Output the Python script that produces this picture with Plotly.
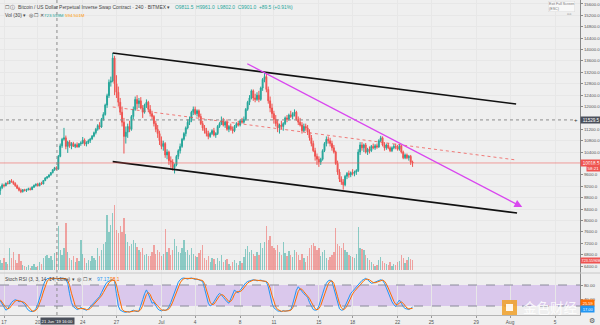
import pandas as pd
import plotly.graph_objects as go

# XBTUSD perpetual, 4-hour bars (UTC) from 2019-06-16 16:00 to 2019-07-23 08:00
first_bar = "2019-06-16 16:00"

opens = [
    9050, 9150,
    9240, 9220, 9310, 9290, 9390, 9360,
    9300, 9220, 9130, 9060, 9010, 9080,
    9050, 9090, 9110, 9080, 9170, 9230,
    9270, 9220, 9300, 9280, 9400, 9490,
    9530, 9600, 9680, 9780, 9850, 9800,
    10250, 10620, 10850, 10900, 10600, 10750,
    10620, 10700, 10600, 10660, 10580, 10690,
    10720, 10820, 10680, 10740, 10800, 10860,
    10960, 11080, 11200, 11330, 11280, 11550,
    11720, 12050, 12380, 12850, 12900, 13700,
    12800, 12500, 12150, 11800, 11450, 10950,
    11100, 11300, 11200, 11650, 11900, 12250,
    12100, 12200, 11950, 11800, 12050, 12150,
    11900, 11750, 11650, 11400, 11200, 11050,
    10800, 10600, 10700, 10300, 10400, 10100,
    10050, 9850, 9950, 10250, 10450, 10600,
    10850, 11050, 11250, 11450, 11550, 11800,
    11900, 11750, 11850, 11650, 11400, 11250,
    11150, 11050, 10950, 11050, 11150, 11000,
    11050, 11300, 11400, 11500, 11350, 11450,
    11200, 11300, 11200, 11150, 11300, 11400,
    11350, 11500, 11450, 11550, 11900, 12150,
    12300, 12550, 12300, 12250, 12400, 12250,
    12650, 12950, 13050, 12600, 12200, 11950,
    11750, 11550, 11400, 11250, 11350, 11300,
    11400, 11600, 11550, 11700, 11650, 11750,
    11800, 11550, 11450, 11350, 11150, 11300,
    11250, 11100, 10900, 10700, 10450, 10250,
    10150, 10050, 10150, 10450, 10700, 10850,
    10800, 10700, 10550, 10400, 10000, 9700,
    9450, 9350, 9250, 9550, 9650, 9600,
    9680, 9650, 9700, 9750, 10400, 10650,
    10550, 10650, 10400, 10500, 10450, 10600,
    10550, 10620, 10580, 10800, 10900, 10650,
    10550, 10650, 10550, 10450, 10550, 10600,
    10580, 10500, 10620, 10400, 10200, 10300,
    10200, 10250, 10050,
]
highs = [
    9200, 9300,
    9290, 9330, 9380, 9420, 9450, 9400,
    9340, 9260, 9180, 9120, 9100, 9110,
    9110, 9150, 9160, 9200, 9260, 9300,
    9320, 9330, 9360, 9420, 9520, 9560,
    9620, 9700, 9800, 9880, 9900, 10300,
    10700, 10900, 11250, 10980, 10800, 10820,
    10750, 10760, 10700, 10740, 10720, 10780,
    10930, 10880, 10780, 10850, 10900, 11000,
    11120, 11250, 11380, 11450, 11600, 11800,
    12100, 12450, 12950, 13050, 13880, 13780,
    13100, 12700, 12300, 12000, 11600, 11300,
    11400, 11500, 11700, 12000, 12350, 12400,
    12300, 12330, 12050, 12100, 12250, 12200,
    12050, 11850, 11700, 11500, 11350, 11150,
    10950, 10800, 10750, 10500, 10450, 10250,
    10150, 10000, 10300, 10500, 10700, 10900,
    11100, 11300, 11550, 11650, 11850, 12000,
    12000, 11900, 11900, 11750, 11500, 11350,
    11250, 11150, 11100, 11200, 11250, 11100,
    11350, 11450, 11650, 11600, 11500, 11550,
    11350, 11400, 11300, 11350, 11450, 11500,
    11550, 11600, 11650, 11950, 12200, 12400,
    12600, 12600, 12450, 12500, 12550, 12700,
    13000, 13200, 13150, 12700, 12350, 12100,
    11850, 11700, 11550, 11400, 11500, 11450,
    11650, 11700, 11750, 11850, 11800, 11900,
    11850, 11650, 11600, 11450, 11400, 11400,
    11350, 11200, 11000, 10800, 10550, 10350,
    10250, 10200, 10500, 10750, 10950, 10950,
    10900, 10800, 10650, 10450, 10100, 9800,
    9550, 9450, 9600, 9700, 9750, 9720,
    9800, 9750, 9800, 10500, 10750, 10750,
    10700, 10720, 10550, 10600, 10650, 10700,
    10680, 10700, 10850, 10970, 10950, 10750,
    10700, 10720, 10600, 10600, 10680, 10700,
    10650, 10680, 10650, 10450, 10350, 10350,
    10300, 10300, 10100,
]
lows = [
    8900, 9100,
    9160, 9200, 9270, 9280, 9330, 9250,
    9180, 9100, 9020, 8960, 8980, 9020,
    9000, 9050, 9060, 9070, 9140, 9190,
    9190, 9200, 9250, 9270, 9380, 9450,
    9500, 9570, 9650, 9740, 9760, 9790,
    10220, 10550, 10800, 10500, 10370, 10550,
    10500, 10580, 10540, 10560, 10560, 10620,
    10680, 10620, 10600, 10680, 10720, 10830,
    10920, 11020, 11150, 11200, 11250, 11500,
    11680, 11950, 12300, 12700, 12850, 12400,
    12300, 12000, 11700, 11300, 10350, 10700,
    10900, 11100, 11150, 11550, 11850, 11900,
    11950, 11900, 11600, 11750, 11950, 11800,
    11650, 11550, 11300, 11100, 10900, 10650,
    10500, 10450, 10200, 10150, 9950, 9850,
    9750, 9650, 9900, 10150, 10350, 10550,
    10800, 10950, 11200, 11350, 11450, 11700,
    11700, 11650, 11600, 11350, 11150, 11050,
    10950, 10850, 10900, 11000, 10950, 10900,
    11000, 11250, 11350, 11300, 11250, 11150,
    11100, 11150, 11050, 11100, 11250, 11300,
    11300, 11400, 11400, 11500, 11850, 12050,
    12250, 12200, 12150, 12200, 12150, 12200,
    12550, 12850, 12500, 12100, 11800, 11600,
    11400, 11300, 11100, 11050, 11200, 11150,
    11350, 11450, 11500, 11600, 11550, 11650,
    11500, 11350, 11300, 11050, 11100, 11150,
    11000, 10800, 10600, 10400, 10100, 9950,
    9880, 9950, 10100, 10400, 10600, 10700,
    10600, 10450, 10350, 9950, 9600, 9350,
    9250, 9080, 9200, 9450, 9500, 9520,
    9580, 9550, 9600, 9700, 10300, 10450,
    10400, 10350, 10300, 10350, 10400, 10500,
    10480, 10520, 10550, 10750, 10600, 10450,
    10480, 10500, 10400, 10400, 10500, 10500,
    10450, 10450, 10350, 10150, 10150, 10150,
    10100, 9950, 9880,
]
closes = [
    9150, 9240,
    9220, 9310, 9290, 9390, 9360, 9300,
    9220, 9130, 9060, 9010, 9080, 9050,
    9090, 9110, 9080, 9170, 9230, 9270,
    9220, 9300, 9280, 9400, 9490, 9530,
    9600, 9680, 9780, 9850, 9800, 10250,
    10620, 10850, 10900, 10600, 10750, 10620,
    10700, 10600, 10660, 10580, 10690, 10720,
    10820, 10680, 10740, 10800, 10860, 10960,
    11080, 11200, 11330, 11280, 11550, 11720,
    12050, 12380, 12850, 12900, 13700, 12800,
    12500, 12150, 11800, 11450, 10950, 11100,
    11300, 11200, 11650, 11900, 12250, 12100,
    12200, 11950, 11800, 12050, 12150, 11900,
    11750, 11650, 11400, 11200, 11050, 10800,
    10600, 10700, 10300, 10400, 10100, 10050,
    9850, 9950, 10250, 10450, 10600, 10850,
    11050, 11250, 11450, 11550, 11800, 11900,
    11750, 11850, 11650, 11400, 11250, 11150,
    11050, 10950, 11050, 11150, 11000, 11050,
    11300, 11400, 11500, 11350, 11450, 11200,
    11300, 11200, 11150, 11300, 11400, 11350,
    11500, 11450, 11550, 11900, 12150, 12300,
    12550, 12300, 12250, 12400, 12250, 12650,
    12950, 13050, 12600, 12200, 11950, 11750,
    11550, 11400, 11250, 11350, 11300, 11400,
    11600, 11550, 11700, 11650, 11750, 11800,
    11550, 11450, 11350, 11150, 11300, 11250,
    11100, 10900, 10700, 10450, 10250, 10150,
    10050, 10150, 10450, 10700, 10850, 10800,
    10700, 10550, 10400, 10000, 9700, 9450,
    9350, 9250, 9550, 9650, 9600, 9680,
    9650, 9700, 9750, 10400, 10650, 10550,
    10650, 10400, 10500, 10450, 10600, 10550,
    10620, 10580, 10800, 10900, 10650, 10550,
    10650, 10550, 10450, 10550, 10600, 10580,
    10500, 10620, 10400, 10200, 10300, 10200,
    10250, 10050, 10018.5,
]
# traded volume per bar, millions of USD
volumes_m = [
    724, 507,
    868, 579, 434, 1592, 868, 1302,
    724, 507, 1158, 651, 362, 289,
    217, 362, 145, 289, 434, 217,
    289, 579, 434, 868, 1013, 1085,
    868, 1013, 724, 1230, 1302, 3184,
    1447, 1085, 1592, 3401, 1302, 868,
    724, 1013, 579, 868, 651, 2171,
    1158, 868, 507, 724, 651, 1013,
    868, 724, 1592, 1013, 1447, 1881,
    2026, 3980, 2750, 3256, 4125, 4703,
    2894, 2677, 3184, 2750, 3763, 2605,
    2026, 1737, 1881, 2171, 1954, 1664,
    1447, 1302, 1592, 1085, 1158, 1013,
    1013, 1302, 1809, 1158, 1447, 1302,
    1013, 1158, 2967, 1302, 1592, 1085,
    1447, 2243, 1737, 1302, 1230, 1592,
    2171, 1302, 1447, 1085, 1592, 1158,
    1013, 941, 1230, 1447, 1809, 868,
    724, 1013, 579, 868, 796, 434,
    868, 651, 1085, 579, 724, 796,
    434, 289, 579, 724, 507, 362,
    651, 507, 941, 1520, 1737, 1302,
    1447, 1158, 1013, 1302, 1085, 1954,
    1592, 2026, 3184, 2171, 2460, 1737,
    1592, 1447, 1809, 1302, 1085, 2026,
    1230, 1013, 1375, 1085, 941, 1447,
    1302, 1085, 724, 1158, 868, 579,
    1013, 1592, 1809, 1954, 1737, 1447,
    1592, 1013, 1302, 1447, 868, 724,
    941, 1085, 1302, 3039, 1881, 1737,
    1592, 1954, 1447, 1302, 1085, 1013,
    941, 868, 1158, 3112, 1592, 1520,
    1447, 1085, 868, 724, 579, 434,
    289, 362, 724, 941, 651, 507,
    434, 362, 579, 289, 434, 362,
    579, 651, 1085, 868, 507, 724,
    941, 796, 723.56,
]
# Stoch RSI (3, 3, 14, 14, close): %K and %D
stoch_k = [
    35, 25,
    15, 8, 12, 22, 30, 35,
    38, 36, 32, 34, 30, 25,
    15, 8, 5, 4, 6, 12,
    25, 40, 60, 80, 92, 98,
    100, 100, 99, 98.2, 97.17, 97,
    100, 100, 99, 96, 85, 55,
    30, 18, 14, 10, 12, 16,
    12, 9, 8, 12, 18, 25,
    32, 38, 42, 47, 58, 70,
    80, 88, 92, 94, 95, 90,
    55, 20, 8, 5, 3, 2,
    4, 3, 6, 8, 5, 4,
    6, 20, 38, 55, 66, 55,
    38, 28, 30, 20, 12, 8,
    6, 9, 7, 10, 18, 30,
    45, 60, 75, 88, 95, 99,
    100, 98, 97, 99, 100, 98,
    96, 97, 95, 93, 90, 70,
    45, 28, 20, 24, 32, 42,
    50, 56, 52, 45, 38, 32,
    28, 40, 55, 66, 60, 58,
    65, 72, 80, 86, 90, 92,
    94, 95, 94, 92, 93, 94,
    92, 90, 89, 75, 50, 28,
    15, 9, 6, 5, 4, 7,
    5, 6, 8, 9, 25, 45,
    65, 75, 68, 60, 55, 50,
    45, 30, 18, 10, 8, 9,
    20, 35, 55, 72, 85, 92,
    94, 90, 70, 45, 25, 12,
    8, 9, 20, 32, 45, 56,
    62, 68, 75, 82, 88, 93,
    96, 99, 95, 90, 85, 86,
    88, 91, 94, 95, 93, 85,
    72, 58, 45, 32, 24, 18,
    30, 37, 28, 18, 13, 12,
    10, 13, 17,
]
stoch_d = [
    38, 30,
    25, 16, 11.7, 14, 21.3, 29,
    34.3, 36.3, 35.3, 34, 32, 29.7,
    23.3, 16, 9.3, 5.7, 5, 7.3,
    14.3, 25.7, 41.7, 60, 77.3, 90,
    96.7, 99.3, 99.7, 99.1, 98.1, 97.5,
    98.1, 99, 99.7, 98.3, 93.3, 78.7,
    56.7, 34.3, 20.7, 14, 12, 12.7,
    13.3, 12.3, 9.7, 9.7, 12.7, 18.3,
    25, 31.7, 37.3, 42.3, 49, 58.3,
    69.3, 79.3, 86.7, 91.3, 93.7, 93,
    80, 55, 27.7, 11, 5.3, 3.3,
    3, 3, 4.3, 5.7, 6.3, 5.7,
    5, 10, 21.3, 37.7, 53, 58.7,
    53, 40.3, 32, 26, 20.7, 13.3,
    8.7, 7.7, 7.3, 8.7, 11.7, 19.3,
    31, 45, 60, 74.3, 86, 94,
    98, 99, 98.3, 98, 98.7, 99,
    98, 97, 96, 95, 92.7, 84.3,
    68.3, 47.7, 31, 24, 25.3, 32.7,
    41.3, 49.3, 52.7, 51, 45, 38.3,
    32.7, 33.3, 41, 53.7, 60.3, 61.3,
    61, 65, 72.3, 79.3, 85.3, 89.3,
    92, 93.7, 94.3, 93.7, 93, 93,
    93, 92, 90.3, 84.7, 71.3, 51,
    31, 17.3, 10, 6.7, 5, 5.3,
    5.3, 6, 6.3, 7.7, 14, 26.3,
    45, 61.7, 69.3, 67.7, 61, 55,
    50, 41.7, 31, 19.3, 12, 9,
    12.3, 21.3, 36.7, 54, 70.7, 83,
    90.3, 92, 84.7, 68.3, 46.7, 27.3,
    15, 9.7, 12.3, 20.3, 32.3, 44.3,
    54.3, 62, 68.3, 75, 81.7, 87.7,
    92.3, 96, 96.7, 94.7, 90, 87,
    86.3, 88.3, 91, 93.3, 94, 91,
    83.3, 71.7, 58.3, 45, 33.7, 24.7,
    24, 28.3, 31.7, 27.7, 19.7, 14.3,
    11.7, 11.7, 13.3,
]

# chart drawings: (time, price) anchor points
channel_upper = [("2019-06-26 16:00", 13880), ("2019-08-01 13:00", 12090)]
channel_lower = [("2019-06-26 16:00", 10065), ("2019-08-01 15:00", 8262)]
midline = [("2019-06-26 16:00", 11984), ("2019-08-01 13:00", 10123)]
resistance = [("2019-07-08 12:00", 13529), ("2019-08-02 02:00", 8470)]

cursor_time = "2019-06-21 17:00"
cursor_price = 11529.5
last_price = 10018.5

# price scale labels (those under the cursor / last-price tags are hidden)
price_ticks = [6400, 6800, 7200, 7600, 8000, 8400, 8800, 9200, 9600, 10400, 10800,
               11200, 12000, 12400, 12800, 13200, 13600, 14000, 14400, 14800, 15200, 15600]
stoch_ticks = [40, 80]
day_ticks = ["2019-06-17", "2019-06-20", "2019-06-24", "2019-06-27", "2019-07-01",
             "2019-07-04", "2019-07-08", "2019-07-11", "2019-07-15", "2019-07-18",
             "2019-07-22", "2019-07-25", "2019-07-29", "2019-08-01", "2019-08-05"]
day_labels = ["17", "20", "24", "27", "Jul", "4", "8", "11", "15", "18",
              "22", "25", "29", "Aug", "5"]

UP, DOWN = "#26a69a", "#ef5350"
BG = "#efefef"
FONT = "Liberation Sans"

times = pd.date_range(first_bar, periods=len(closes), freq="4h")
vol_colors = ["rgba(38,166,154,0.5)" if c >= o else "rgba(239,83,80,0.5)"
              for o, c in zip(opens, closes)]

W, H = 600, 325
PLOT_W, PLOT_H = 580, 315


def px(x):
    return x / PLOT_W


def py(y):
    return (PLOT_H - y) / PLOT_H


fig = go.Figure()

fig.add_trace(go.Bar(
    x=times, y=volumes_m, marker=dict(color=vol_colors, line=dict(width=0)),
    width=4 * 3600 * 1000 * 0.7, yaxis="y2", hoverinfo="skip"))

fig.add_trace(go.Candlestick(
    x=times, open=opens, high=highs, low=lows, close=closes,
    increasing=dict(line=dict(color=UP, width=1), fillcolor=UP),
    decreasing=dict(line=dict(color=DOWN, width=1), fillcolor=DOWN),
    whiskerwidth=0, yaxis="y"))

for pts, color, dash, wd in [(channel_upper, "#111111", "solid", 1.6),
                             (channel_lower, "#111111", "solid", 1.6),
                             (midline, "rgba(239,83,80,0.75)", "dot", 1)]:
    fig.add_trace(go.Scatter(
        x=[p[0] for p in pts], y=[p[1] for p in pts], mode="lines",
        line=dict(color=color, width=wd, dash=dash), yaxis="y", hoverinfo="skip"))

fig.add_trace(go.Scatter(x=times, y=stoch_k, mode="lines",
                         line=dict(color="#2196f3", width=1), yaxis="y3"))
fig.add_trace(go.Scatter(x=times, y=stoch_d, mode="lines",
                         line=dict(color="#ff6d00", width=1), yaxis="y3"))

shapes = [
    # Stoch RSI band 20..80
    dict(type="rect", xref="paper", yref="y3", x0=0, x1=1, y0=20, y1=80,
         fillcolor="rgba(170,110,230,0.30)", line=dict(width=0), layer="below"),
    dict(type="line", xref="paper", yref="y3", x0=0, x1=1, y0=80, y1=80,
         line=dict(color="#8a8a9a", width=1, dash="dash")),
    dict(type="line", xref="paper", yref="y3", x0=0, x1=1, y0=20, y1=20,
         line=dict(color="#8a8a9a", width=1, dash="dash")),
    # last price line
    dict(type="line", xref="paper", yref="y", x0=0, x1=1, y0=last_price, y1=last_price,
         line=dict(color="rgba(239,83,80,0.55)", width=1)),
    # cursor
    dict(type="line", xref="paper", yref="y", x0=0, x1=px(575), y0=cursor_price, y1=cursor_price,
         line=dict(color="#8c8c8c", width=1, dash="dot")),
    dict(type="line", xref="x", yref="paper", x0=cursor_time, x1=cursor_time, y0=0, y1=1,
         line=dict(color="#8c8c8c", width=1, dash="dot")),
    # pane separator
    dict(type="line", xref="paper", yref="paper", x0=0, x1=W / PLOT_W, y0=py(273), y1=py(273),
         line=dict(color="#c8c8c8", width=1)),
]

ann = []
# resistance line with arrow head
ann.append(dict(x=resistance[1][0], y=resistance[1][1], ax=resistance[0][0], ay=resistance[0][1],
                xref="x", yref="y", axref="x", ayref="y", text="", showarrow=True,
                arrowhead=2, arrowsize=1.2, arrowwidth=1.3, arrowcolor="#d946ef"))


def label(x, y, text, color="#555", size=4.6, xanchor="left", yref="paper", bg=None, **kw):
    d = dict(x=x, y=y, xref="paper", yref=yref, text=text, showarrow=False,
             xanchor=xanchor, yanchor="middle", font=dict(family=FONT, size=size, color=color))
    if bg:
        d.update(bgcolor=bg, borderpad=0.6)
    d.update(kw)
    ann.append(d)


label(px(3), py(7), "☐ ⓘ  Bitcoin / US Dollar Perpetual Inverse Swap Contract · 240 · BITMEX ▾",
      color="#444", size=4.9)
label(px(173), py(7), "O9811.5  H9961.0  L9802.0  C9901.0  +89.5 (+0.91%)", color=UP, size=4.9)
label(px(3), py(15), "Vol (30) ▾  ◎ ☐ ✕", color="#444", size=4.9)
label(px(42), py(15), "723.559M", color=UP, size=4.4)
label(px(63), py(15), "594.501M", color="#ff9800", size=4.4)
label(px(3), py(279), "Stoch RSI (3, 3, 14, 14, close) ▾  ◎ ☐ ✕", color="#444", size=4.9)
label(px(95), py(279), "97.17", color="#2196f3", size=4.9)
label(px(108), py(279), "98.1", color="#ff6d00", size=4.9)

# axis value tags
label(1.0, cursor_price, " 11529.5 ", color="white", yref="y", bg="#4a4f5a", size=4.6)
label(px(576), cursor_price, "+", color="#333", yref="y", xanchor="center", size=6)
label(1.0, last_price, " 10018.5 ", color="white", yref="y", bg=DOWN, size=4.6)
label(px(586), last_price - 160, "58:21", color="white", yref="y", bg=DOWN, size=4.4)
label(1.0, py(260), "723.5596M", color="white", bg=DOWN, size=3.8)
label(1.0, 25.6, " 25.59 ", color="white", yref="y3", bg="#ff6d00", size=4.0, yshift=1)
label(1.0, 17.0, " 17.00 ", color="white", yref="y3", bg="#2196f3", size=4.0, yshift=-2)
label(cursor_time, py(320.5), "21 Jun '19 16:00", color="white", bg="#4a4f5a", size=4.2,
      xanchor="center", xref="x", xshift=1)
label(px(592), py(320), "⚙", color="#555", size=6.5, xanchor="center")
# top right tooltip
label(px(548), py(6), "Exit Full Screen<br>(ESC)", color="#777", bg="#f8f8f8", size=3.6,
      bordercolor="#dddddd", borderwidth=0.5, align="left")
label(px(565), py(14), "▫▫", color="#888", size=6)
# watermark
label(px(521), py(307), "金色财经", color="rgba(255,255,255,0.85)", size=13.5,
      font=dict(family="Noto Sans CJK SC", size=13.5, color="rgba(255,255,255,0.85)"))

shapes += [
    dict(type="rect", xref="paper", yref="paper", x0=px(502), x1=px(517), y0=py(315), y1=py(300),
         fillcolor="rgba(240,160,40,0.85)", line=dict(width=0)),
    dict(type="rect", xref="paper", yref="paper", x0=px(506), x1=px(513), y0=py(311), y1=py(304),
         fillcolor="rgba(255,255,255,0.9)", line=dict(width=0)),
]

fig.update_layout(
    width=W, height=H, margin=dict(l=0, r=W - PLOT_W, t=0, b=H - PLOT_H),
    paper_bgcolor=BG, plot_bgcolor=BG, showlegend=False, bargap=0,
    font=dict(family=FONT, size=5, color="#555"),
    shapes=shapes, annotations=ann,
    xaxis=dict(type="date", range=["2019-06-16 15:28", "2019-08-07 05:20"],
               rangeslider=dict(visible=False), anchor="y3",
               tickvals=day_ticks, ticktext=day_labels, ticks="outside", ticklen=2,
               tickcolor="#999", tickfont=dict(size=4.8, color="#555"),
               showgrid=True, gridcolor="#e7e7e7", gridwidth=1,
               showline=True, linecolor="#b5b5b5", linewidth=1, zeroline=False),
    yaxis=dict(domain=[py(273), 1], range=[6155, 15740], side="right",
               tickvals=price_ticks, ticktext=[f"{v:.1f}" for v in price_ticks],
               ticks="outside", ticklen=2, tickcolor="#888", tickfont=dict(size=4.4, color="#555"),
               showgrid=True, gridcolor="#e7e7e7", showline=True, linecolor="#888",
               zeroline=False, anchor="x"),
    yaxis2=dict(domain=[py(273), 1], overlaying="y", range=[-217, 19537], visible=False),
    yaxis3=dict(domain=[0, py(273)], range=[-5.7, 114.3], side="right",
                tickvals=stoch_ticks, ticktext=[f"{v:.2f}" for v in stoch_ticks],
                ticks="outside", ticklen=2, tickcolor="#888", tickfont=dict(size=4.4, color="#555"),
                showgrid=False, showline=True, linecolor="#888", zeroline=False, anchor="x"),
)

fig.write_html("out.html")
